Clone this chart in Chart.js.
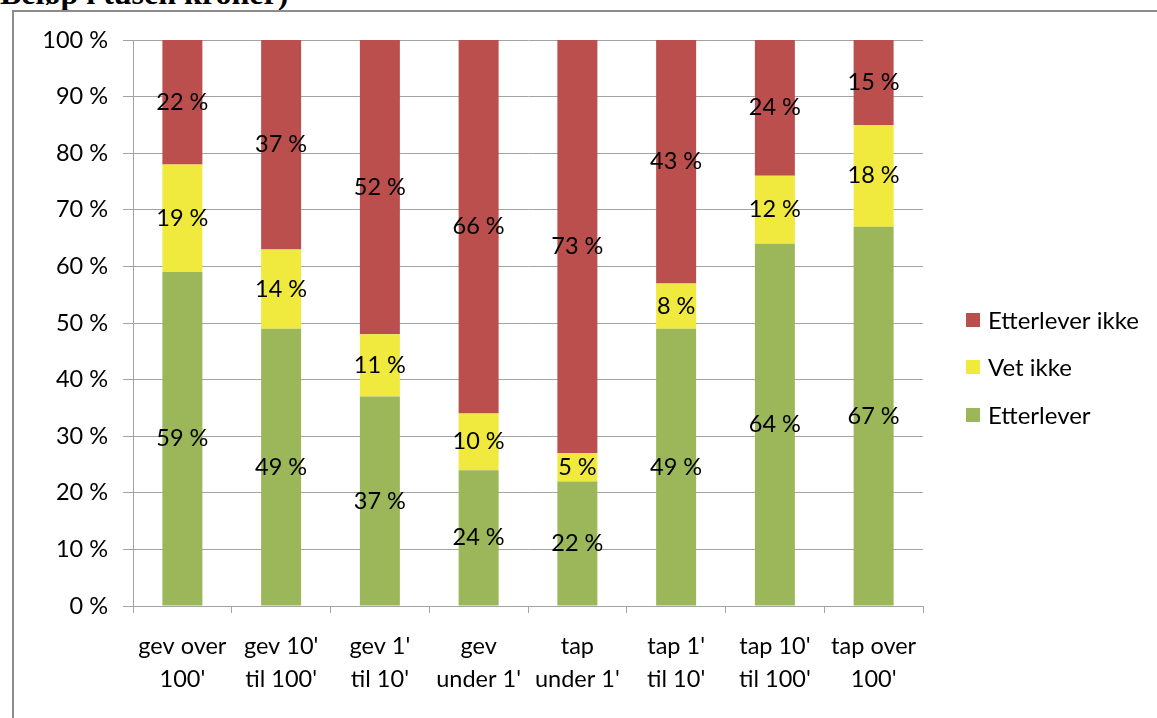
<!DOCTYPE html>
<html>
<head>
<meta charset="utf-8">
<script src="https://cdn.jsdelivr.net/npm/chart.js@4/dist/chart.umd.min.js"></script>
<style>
  html, body { margin: 0; padding: 0; width: 1157px; height: 718px; overflow: hidden; background: #fff; }
  #heading {
    position: absolute; left: 0; top: -23px;
    font: bold 32px/32px "Liberation Serif", "Times New Roman", serif;
    color: #000; white-space: nowrap;
  }
  #frame {
    position: absolute; left: 12px; top: 10px; width: 1200px; height: 800px;
    border-left: 2px solid #8c8c8c; border-top: 2px solid #8c8c8c;
  }
  #wrap { position: absolute; left: 0; top: 0; width: 1157px; height: 718px; }
</style>
</head>
<body>
<div id="heading">Beløp i tusen kroner)</div>
<div id="frame"></div>
<div id="wrap"><canvas id="c" width="1157" height="718"></canvas></div>
<script>
// Categories (x axis, two-line labels)
const categories = [
  ["gev over", "100'"],
  ["gev 10'", "til 100'"],
  ["gev 1'", "til 10'"],
  ["gev", "under 1'"],
  ["tap", "under 1'"],
  ["tap 1'", "til 10'"],
  ["tap 10'", "til 100'"],
  ["tap over", "100'"]
];

// Shares in percent, stacked bottom to top
const etterlever = [59, 49, 37, 24, 22, 49, 64, 67];
const vetIkke = [19, 14, 11, 10, 5, 8, 12, 18];
const etterleverIkke = [22, 37, 52, 66, 73, 43, 24, 15];

// Y axis tick labels, 0 % .. 100 %
const yTickLabels = ["0 %", "10 %", "20 %", "30 %", "40 %", "50 %", "60 %", "70 %", "80 %", "90 %", "100 %"];

const FONT = "Lato, 'Noto Sans', sans-serif";
const FONT_SIZE = 23.5;
const GRID = "#a3a3a3";

// Value labels centred inside each stacked segment
const segmentLabels = {
  id: "segmentLabels",
  afterDatasetsDraw(chart) {
    const ctx = chart.ctx;
    ctx.save();
    ctx.font = FONT_SIZE + "px " + FONT;
    ctx.fillStyle = "#000";
    ctx.textAlign = "center";
    ctx.textBaseline = "middle";
    chart.data.datasets.forEach((ds, i) => {
      const meta = chart.getDatasetMeta(i);
      meta.data.forEach((bar, j) => {
        const cy = (bar.y + bar.base) / 2;
        ctx.fillText(ds.data[j] + " %", bar.x, cy);
      });
    });
    ctx.restore();
  }
};

// Legend on the right, top entry = top segment
const sideLegend = {
  id: "sideLegend",
  afterDraw(chart) {
    const ctx = chart.ctx;
    const area = chart.chartArea;
    const x0 = area.right + 43;
    const ys = [320, 367, 415];
    const items = chart.data.datasets.slice().reverse();
    ctx.save();
    ctx.font = "24px " + FONT;
    ctx.textBaseline = "middle";
    ctx.textAlign = "left";
    items.forEach((ds, k) => {
      ctx.fillStyle = ds.backgroundColor;
      ctx.fillRect(x0, ys[k] - 7, 14, 14);
      ctx.fillStyle = "#000";
      ctx.fillText(ds.label, x0 + 22, ys[k] + 1);
    });
    ctx.restore();
  }
};

new Chart(document.getElementById("c"), {
  type: "bar",
  data: {
    labels: categories,
    datasets: [
      { label: "Etterlever", data: etterlever, backgroundColor: "#9bb75a" },
      { label: "Vet ikke", data: vetIkke, backgroundColor: "#efea3d" },
      { label: "Etterlever ikke", data: etterleverIkke, backgroundColor: "#bb4f4d" }
    ]
  },
  options: {
    responsive: false,
    animation: false,
    devicePixelRatio: 1,
    layout: { padding: { left: 0, top: 40, right: 234, bottom: 0 } },
    datasets: { bar: { categoryPercentage: 1, barPercentage: 0.405 } },
    plugins: { legend: { display: false }, tooltip: { enabled: false } },
    scales: {
      x: {
        stacked: true,
        grid: { drawOnChartArea: false, drawTicks: true, tickLength: 7, color: GRID, offset: true },
        border: { color: GRID, width: 1 },
        ticks: {
          color: "#000", padding: 17, maxRotation: 0, autoSkip: false,
          font: { family: FONT, size: FONT_SIZE, lineHeight: 1.4 }
        },
        afterFit(s) { s.height = 112; }
      },
      y: {
        stacked: true,
        min: 0, max: 100,
        grid: { color: GRID, tickLength: 10 },
        border: { color: GRID, width: 1 },
        ticks: {
          stepSize: 10, color: "#000", padding: 15,
          font: { family: FONT, size: FONT_SIZE },
          callback: (v, i) => yTickLabels[i]
        },
        afterFit(s) { s.width = 133; }
      }
    }
  },
  plugins: [segmentLabels, sideLegend]
});
</script>
</body>
</html>
